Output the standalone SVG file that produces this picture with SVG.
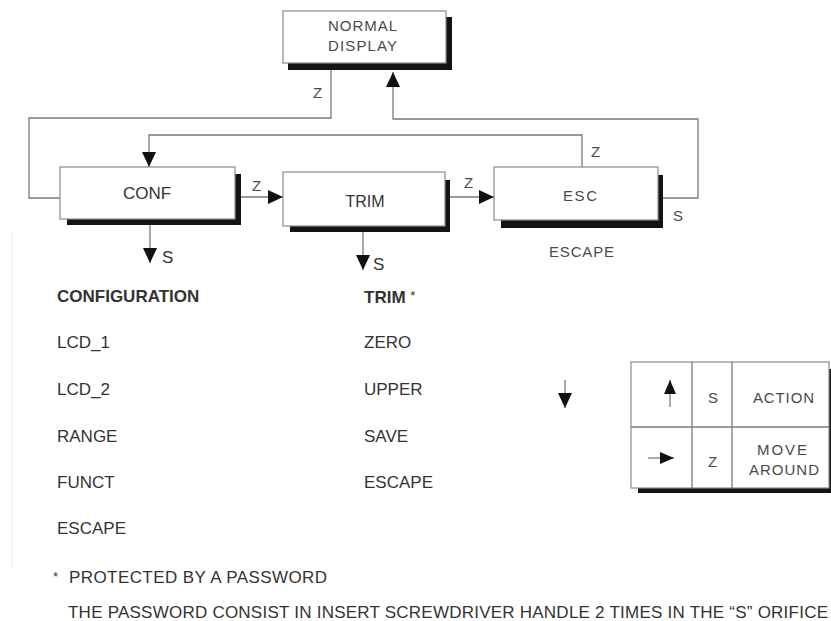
<svg xmlns="http://www.w3.org/2000/svg" width="831" height="621" viewBox="0 0 831 621">
<style>
.box{fill:#fff;stroke:#8a8a8a;stroke-width:1.2}
.shd{fill:#141414}
.ln{fill:none;stroke:#7a7a7a;stroke-width:1.3}
.lst{font-family:"Liberation Sans",Arial,sans-serif;font-size:17px;fill:#333}
.b{font-weight:bold}
.lbl{font-family:"Liberation Sans",Arial,sans-serif;font-size:15px;fill:#4a4a4a}
.sm{font-family:"Liberation Sans",Arial,sans-serif;font-size:15px;fill:#4a4a4a}
</style>
<defs>
<marker id="ah" markerUnits="userSpaceOnUse" markerWidth="15" markerHeight="14" refX="15" refY="7" orient="auto">
<path d="M0,0 L15,7 L0,14 z" fill="#111"/>
</marker>
<marker id="ahs" markerUnits="userSpaceOnUse" markerWidth="14" markerHeight="12" refX="14" refY="6" orient="auto">
<path d="M0,0 L14,6 L0,12 z" fill="#111"/>
</marker>
</defs>
<rect width="831" height="621" fill="#fff"/>
<line x1="12" y1="232" x2="12" y2="567" stroke="#ececec" stroke-width="1"/>

<g id="connectors">
<path class="ln" d="M331,70 V118 H29 V198 H60"/>
<text class="lbl" x="313" y="98">Z</text>
<path class="ln" d="M663,198 H698 V119 H393 V72" marker-end="url(#ah)"/>
<text class="lbl" x="673" y="221">S</text>
<path class="ln" d="M582,167 V135 H149 V167" marker-end="url(#ah)"/>
<text class="lbl" x="591" y="157">Z</text>
<path class="ln" d="M241,197 H283" marker-end="url(#ah)"/>
<text class="lbl" x="252" y="191">Z</text>
<path class="ln" d="M450,197 H494" marker-end="url(#ah)"/>
<text class="lbl" x="464" y="188">Z</text>
<path class="ln" d="M150,225 V263" marker-end="url(#ah)"/>
<text class="lst" x="162" y="263">S</text>
<path class="ln" d="M363,232 V270" marker-end="url(#ah)"/>
<text class="lst" x="373" y="270">S</text>
<path class="ln" d="M565,380 V408" marker-end="url(#ah)"/>
</g>

<g id="normal-display">
<rect class="shd" x="288" y="17" width="164" height="53"/>
<rect class="box" x="283" y="11" width="163" height="52"/>
<text class="lbl" x="328" y="31" textLength="69" lengthAdjust="spacing">NORMAL</text>
<text class="lbl" x="328" y="51" textLength="69" lengthAdjust="spacing">DISPLAY</text>
</g>

<g id="conf">
<rect class="shd" x="67" y="174" width="174" height="51"/>
<rect class="box" x="60" y="167" width="175" height="52"/>
<text class="lst" x="147" y="199" text-anchor="middle">CONF</text>
</g>

<g id="trim">
<rect class="shd" x="290" y="180" width="160" height="52"/>
<rect class="box" x="283" y="172" width="162" height="54"/>
<text class="lst" x="365" y="207" text-anchor="middle" style="font-size:16px">TRIM</text>
</g>

<g id="esc">
<rect class="shd" x="501" y="175" width="162" height="53"/>
<rect class="box" x="494" y="167" width="164" height="53"/>
<text class="lbl" x="563" y="201" textLength="34" lengthAdjust="spacing">ESC</text>
<text class="lbl" x="549" y="257" textLength="65" lengthAdjust="spacing">ESCAPE</text>
</g>

<g id="conf-list">
<text class="lst b" x="57" y="302">CONFIGURATION</text>
<text class="lst" x="57" y="348">LCD_1</text>
<text class="lst" x="57" y="395">LCD_2</text>
<text class="lst" x="57" y="442">RANGE</text>
<text class="lst" x="57" y="488">FUNCT</text>
<text class="lst" x="57" y="534">ESCAPE</text>
</g>

<g id="trim-list">
<text class="lst b" x="364" y="303">TRIM <tspan font-weight="normal" font-size="13" dy="-3">*</tspan></text>
<text class="lst" x="364" y="348">ZERO</text>
<text class="lst" x="364" y="395">UPPER</text>
<text class="lst" x="364" y="442">SAVE</text>
<text class="lst" x="364" y="488">ESCAPE</text>
</g>

<g id="legend">
<rect class="shd" x="638" y="369" width="197" height="124"/>
<rect class="box" x="631" y="362" width="198" height="126"/>
<line class="ln" x1="631" y1="427" x2="829" y2="427"/>
<line class="ln" x1="692" y1="362" x2="692" y2="488"/>
<line class="ln" x1="732" y1="362" x2="732" y2="488"/>
<path class="ln" d="M670,407 V380" marker-end="url(#ahs)"/>
<text class="sm" x="708" y="403">S</text>
<text class="sm" x="753" y="403" textLength="61" lengthAdjust="spacing">ACTION</text>
<path class="ln" d="M648,458 H674" marker-end="url(#ahs)"/>
<text class="sm" x="708" y="467">Z</text>
<text class="sm" x="757" y="455" textLength="50" lengthAdjust="spacing">MOVE</text>
<text class="sm" x="749" y="475" textLength="70" lengthAdjust="spacing">AROUND</text>
</g>

<g id="footer">
<text class="lst" x="53" y="581" style="font-size:13px">*</text>
<text class="lst" x="69" y="583" textLength="258" lengthAdjust="spacing">PROTECTED BY A PASSWORD</text>
<text class="lst" x="68" y="618" textLength="760" lengthAdjust="spacing">THE PASSWORD CONSIST IN INSERT SCREWDRIVER HANDLE 2 TIMES IN THE “S” ORIFICE</text>
</g>
</svg>
